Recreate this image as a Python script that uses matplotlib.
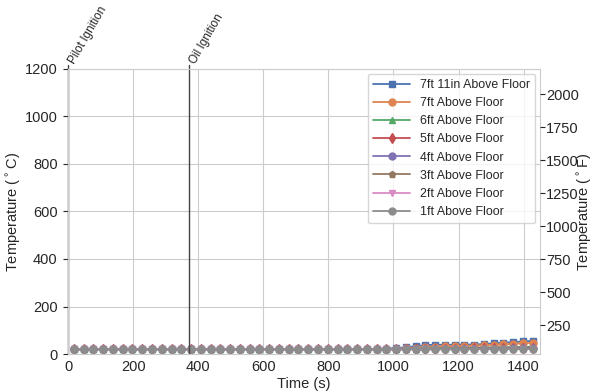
import matplotlib

matplotlib.use("Agg")
import matplotlib.pyplot as plt
import numpy as np
import seaborn as sns

sns.set_style("whitegrid")
plt.rcParams["font.family"] = ["Liberation Sans", "DejaVu Sans"]

time_s = [18, 48, 78, 108, 138, 168, 198, 228, 258, 288, 318, 348, 378, 408, 438, 468,
          498, 528, 558, 588, 618, 648, 678, 708, 738, 768, 798, 828, 858, 888, 918, 948,
          978, 1008, 1038, 1068, 1098, 1128, 1158, 1188, 1218, 1248, 1278, 1308, 1338,
          1368, 1398, 1428]

base = [20] * 32
temps = {
    "7ft 11in Above Floor": base + [23, 25, 28, 33, 37, 39, 39, 39, 40, 40, 42, 45, 48, 50, 53, 55],
    "7ft Above Floor": base + [21, 22, 24, 27, 29, 31, 32, 33, 34, 35, 37, 39, 41, 43, 45, 47],
    "6ft Above Floor": base + [20, 21, 22, 23, 24, 25, 25, 26, 26, 27, 27, 28, 29, 29, 30, 31],
    "5ft Above Floor": base + [20, 20, 21, 21, 22, 22, 23, 23, 23, 24, 24, 25, 25, 26, 26, 27],
    "4ft Above Floor": base + [20, 20, 20, 21, 21, 21, 22, 22, 22, 22, 23, 23, 23, 24, 24, 24],
    "3ft Above Floor": base + [20, 20, 20, 20, 21, 21, 21, 21, 21, 22, 22, 22, 22, 23, 23, 23],
    "2ft Above Floor": base + [20, 20, 20, 20, 20, 20, 21, 21, 21, 21, 21, 21, 22, 22, 22, 22],
    "1ft Above Floor": base + [20, 20, 20, 20, 20, 20, 20, 20, 20, 21, 21, 21, 21, 21, 21, 21],
}
markers = ["s", "o", "^", "d", "o", "p", "v", "o"]

events = [0, 372]
event_labels = ["Pilot Ignition", "Oil Ignition"]

colors = sns.color_palette("deep", 8)
fs = 10.5

fig = plt.figure(figsize=(5.94, 3.91), dpi=100)
ax = fig.add_axes([0.1145, 0.0946, 0.7945, 0.729])
for (name, vals), mk, c in zip(temps.items(), markers, colors):
    ax.plot(time_s, vals, marker=mk, markersize=5, color=c, linewidth=1.3, label=name)

ax.set_xlim(0, 1450)
ax.set_ylim(0, 1200)
ax.set_xlabel("Time (s)", fontsize=fs, labelpad=2)
ax.set_ylabel(r"Temperature ($^\circ$C)", fontsize=fs, labelpad=1.5)
ax.tick_params(axis="x", labelsize=fs, pad=1)
ax.tick_params(axis="y", labelsize=fs, pad=4)
for sp in ax.spines.values():
    sp.set_color("#cccccc")

for t, lab in zip(events, event_labels):
    ax.axvline(t, ymin=0, ymax=1.015, color="#444444", linewidth=1.0, clip_on=False)
    ax.text(t + 28, 1212, lab, rotation=60, ha="left", va="bottom", fontsize=8.5,
            rotation_mode="anchor")

ax.legend(loc="upper right", fontsize=8.9, frameon=True, borderaxespad=0.4,
          handlelength=3.0)

ax2 = ax.twinx()
ax2.set_ylim(32, 2192)
ax2.set_yticks([250, 500, 750, 1000, 1250, 1500, 1750, 2000])
ax2.grid(False)
ax2.set_ylabel(r"Temperature ($^\circ$F)", fontsize=fs)
ax2.yaxis.set_label_coords(1.077, 0.5)
ax2.tick_params(labelsize=fs, pad=1)
for sp in ax2.spines.values():
    sp.set_visible(False)

fig.savefig("out.png")
plt.close(fig)
